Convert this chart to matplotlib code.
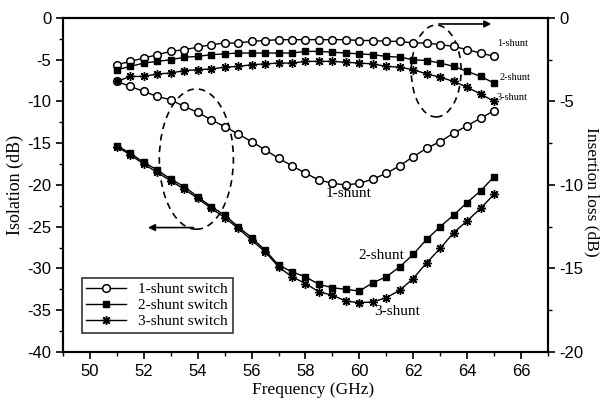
import numpy as np
import matplotlib
matplotlib.use("Agg")
import matplotlib.pyplot as plt
from matplotlib.patches import Ellipse
from matplotlib.ticker import MultipleLocator

plt.rcParams['axes.unicode_minus'] = False

# frequency points (GHz)
freq = np.arange(51, 65.01, 0.5)

# isolation (dB), left axis
iso_1 = [-7.6, -8.2, -8.8, -9.4, -9.8, -10.6, -11.3, -12.2, -13.0, -13.9,
         -14.8, -15.8, -16.8, -17.7, -18.6, -19.4, -19.8, -20.0, -19.8, -19.3,
         -18.6, -17.7, -16.6, -15.6, -14.8, -13.8, -12.9, -12.0, -11.1]
iso_2 = [-15.3, -16.2, -17.3, -18.2, -19.3, -20.2, -21.4, -22.6, -23.6, -25.0,
         -26.3, -27.8, -29.6, -30.4, -31.0, -31.9, -32.3, -32.5, -32.7, -31.7,
         -31.0, -29.8, -28.3, -26.5, -25.0, -23.6, -22.1, -20.7, -19.0]
iso_3 = [-15.4, -16.4, -17.5, -18.5, -19.5, -20.5, -21.6, -22.8, -23.9, -25.2,
         -26.6, -28.0, -29.8, -31.0, -31.8, -32.8, -33.2, -33.9, -34.1, -34.0,
         -33.5, -32.6, -31.2, -29.3, -27.6, -25.7, -24.3, -22.8, -21.1]

# insertion loss (dB), right axis
il_1 = [-2.8, -2.6, -2.4, -2.2, -2.0, -1.9, -1.75, -1.6, -1.5, -1.5,
        -1.4, -1.35, -1.3, -1.3, -1.3, -1.3, -1.3, -1.3, -1.35, -1.35,
        -1.4, -1.4, -1.5, -1.5, -1.6, -1.7, -1.9, -2.1, -2.3]
il_2 = [-3.1, -2.9, -2.7, -2.6, -2.5, -2.35, -2.3, -2.2, -2.15, -2.1,
        -2.1, -2.1, -2.1, -2.1, -2.0, -2.0, -2.05, -2.1, -2.15, -2.2,
        -2.3, -2.35, -2.5, -2.55, -2.7, -2.9, -3.2, -3.5, -3.9]
il_3 = [-3.8, -3.5, -3.5, -3.35, -3.3, -3.15, -3.1, -3.05, -2.95, -2.9,
        -2.8, -2.75, -2.7, -2.7, -2.6, -2.6, -2.6, -2.65, -2.7, -2.75,
        -2.9, -2.95, -3.1, -3.35, -3.55, -3.8, -4.15, -4.55, -5.0]

legend_labels = ['1-shunt switch', '2-shunt switch', '3-shunt switch']

serif = 'Liberation Serif'
sans = 'Liberation Sans'

fig = plt.figure(figsize=(6.01, 4.01), dpi=100)
ax = fig.add_axes([0.1048, 0.1222, 0.807, 0.833])
ax2 = ax.twinx()

st1 = dict(color='black', lw=1, marker='o', ms=5.5, mfc='white', mec='black', mew=1.1)
st2 = dict(color='black', lw=1, marker='s', ms=5, mfc='black', mec='black')
st3 = dict(color='black', lw=1, marker=(8, 2, 0), ms=6.5, mec='black', mew=1.0)

h1, = ax.plot(freq, iso_1, **st1)
h2, = ax.plot(freq, iso_2, **st2)
h3, = ax.plot(freq, iso_3, **st3)
ax2.plot(freq, il_1, **st1)
ax2.plot(freq, il_2, **st2)
ax2.plot(freq, il_3, **st3)

ax.set_xlim(49, 67)
ax.set_ylim(-40, 0)
ax2.set_ylim(-20, 0)

ax.xaxis.set_major_locator(MultipleLocator(2))
ax.xaxis.set_minor_locator(MultipleLocator(1))
ax.yaxis.set_major_locator(MultipleLocator(5))
ax.yaxis.set_minor_locator(MultipleLocator(2.5))
ax2.yaxis.set_major_locator(MultipleLocator(5))
ax2.yaxis.set_minor_locator(MultipleLocator(2.5))

for a in (ax, ax2):
    a.tick_params(which='major', direction='out', length=5, width=1.2)
    a.tick_params(which='minor', direction='out', length=3, width=1)
    for s in a.spines.values():
        s.set_linewidth(1.5)
ax.tick_params(top=False, which='both')
ax2.tick_params(axis='y', pad=3)

for lab in ax.get_xticklabels() + ax.get_yticklabels() + ax2.get_yticklabels():
    lab.set_fontfamily(sans)
    lab.set_fontsize(12)

# axis titles placed as figure text
fig.text(313 / 601, 1 - 390 / 401, 'Frequency (GHz)', fontfamily=serif, fontsize=12.5,
         ha='center', va='center')
fig.text(15 / 601, 1 - 185 / 401, 'Isolation (dB)', fontfamily=serif, fontsize=13,
         rotation=90, ha='center', va='center')
fig.text(592 / 601, 1 - 192 / 401, 'Insertion loss (dB)', fontfamily=serif, fontsize=12.5,
         rotation=-90, ha='center', va='center')

# dashed ellipses and arrows
ax.add_patch(Ellipse((53.95, -16.9), 2.75, 16.8, fill=False, ls=(0, (4, 3)), lw=1.2, color='black'))
ax.add_patch(Ellipse((62.85, -6.35), 1.85, 11.0, fill=False, ls=(0, (4, 3)), lw=1.2, color='black'))
ax.annotate('', xy=(52.05, -25.1), xytext=(53.95, -25.1),
            arrowprops=dict(arrowstyle='-|>', color='black', lw=1.2, mutation_scale=10))
ax.annotate('', xy=(65.0, -0.72), xytext=(62.85, -0.72),
            arrowprops=dict(arrowstyle='-|>', color='black', lw=1.2, mutation_scale=10))

# curve labels
ax.text(65.1, -3.0, '1-shunt', fontfamily=serif, fontsize=7.5, va='center')
ax.text(65.2, -7.1, '2-shunt', fontfamily=serif, fontsize=7.5, va='center')
ax.text(65.1, -9.5, '3-shunt', fontfamily=serif, fontsize=7.5, va='center')
ax.text(59.6, -21.0, '1-shunt', fontfamily=serif, fontsize=11, ha='center', va='center')
ax.text(60.8, -28.4, '2-shunt', fontfamily=serif, fontsize=11, ha='center', va='center')
ax.text(61.4, -35.2, '3-shunt', fontfamily=serif, fontsize=11, ha='center', va='center')

leg = ax.legend([h1, h2, h3], legend_labels, loc='lower left', bbox_to_anchor=(0.039, 0.057),
                borderaxespad=0, frameon=True, fancybox=False, edgecolor='black',
                prop={'family': serif, 'size': 11}, handlelength=2.6, labelspacing=0.15,
                borderpad=0.3, handletextpad=0.8)
leg.get_frame().set_linewidth(1.2)

fig.savefig('out.png', dpi=100)
